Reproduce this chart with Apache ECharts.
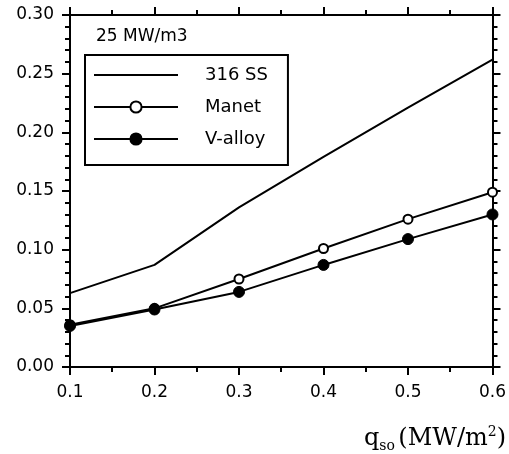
<!DOCTYPE html>
<html>
<head>
<meta charset="utf-8">
<script src="https://cdn.jsdelivr.net/npm/echarts@6/dist/echarts.min.js"></script>
<style>
  html, body { margin: 0; padding: 0; background: #fff; }
  #chart { width: 509px; height: 454px; }
</style>
</head>
<body>
<div id="chart"></div>
<script>
// Surface heat flux q_so (MW/m^2)
const heatFlux = [0.1, 0.2, 0.3, 0.4, 0.5, 0.6];
// Series values for each first-wall material at 25 MW/m3
const ss316 = [0.063, 0.087, 0.136, 0.179, 0.221, 0.262];
const manet = [0.036, 0.050, 0.075, 0.101, 0.126, 0.149];
const vAlloy = [0.035, 0.049, 0.064, 0.087, 0.109, 0.130];
const seriesNames = ['316 SS', 'Manet', 'V-alloy'];
const yTicks = [0, 0.05, 0.10, 0.15, 0.20, 0.25, 0.30];
const xTicks = [0.1, 0.2, 0.3, 0.4, 0.5, 0.6];

const pair = (xs, ys) => xs.map((x, i) => [x, ys[i]]);
const FONT = 'DejaVu Sans';
const CLEAR = 'rgba(0,0,0,0)';

const chart = echarts.init(document.getElementById('chart'), null, { renderer: 'canvas' });

const baseX = {
  type: 'value',
  min: xTicks[0],
  max: xTicks[xTicks.length - 1],
  interval: 0.1,
  axisLine: { show: true, onZero: false, lineStyle: { color: '#000', width: 2 } },
  axisTick: { show: true, length: 8, lineStyle: { color: '#000', width: 2 } },
  minorTick: { show: true, splitNumber: 2, length: 5, lineStyle: { color: '#000', width: 2 } },
  splitLine: { show: false }
};
const baseY = {
  type: 'value',
  min: yTicks[0],
  max: yTicks[yTicks.length - 1],
  interval: 0.05,
  axisLine: { show: true, onZero: false, lineStyle: { color: '#000', width: 2 } },
  axisTick: { show: true, length: 8, lineStyle: { color: '#000', width: 2 } },
  minorTick: { show: true, splitNumber: 5, length: 5, lineStyle: { color: '#000', width: 2 } },
  splitLine: { show: false }
};

chart.setOption({
  animation: false,
  backgroundColor: '#fff',
  grid: { left: 70, right: 16, top: 15, bottom: 87, containLabel: false },
  xAxis: [
    Object.assign({}, baseX, {
      position: 'bottom',
      axisLabel: {
        color: '#000', fontFamily: FONT, fontSize: 17, margin: 17,
        formatter: v => v.toFixed(1)
      }
    }),
    Object.assign({}, baseX, { position: 'top', axisLabel: { show: false } })
  ],
  yAxis: [
    Object.assign({}, baseY, {
      position: 'left',
      axisLabel: {
        color: '#000', fontFamily: FONT, fontSize: 17, margin: 16,
        formatter: v => v.toFixed(2)
      }
    }),
    Object.assign({}, baseY, { position: 'right', axisLabel: { show: false } })
  ],
  legend: {
    orient: 'vertical',
    left: 85,
    top: 55,
    data: [
      // plain line sample, no marker
      { name: seriesNames[0], itemStyle: { color: CLEAR, borderColor: CLEAR, borderWidth: 0 } },
      seriesNames[1],
      seriesNames[2]
    ],
    backgroundColor: '#fff',
    borderColor: '#000',
    borderWidth: 2,
    borderRadius: 0,
    padding: [11, 20, 17, 8],
    itemWidth: 84,
    itemHeight: 14,
    itemGap: 14,
    textStyle: { color: '#000', fontFamily: FONT, fontSize: 18, lineHeight: 18, padding: [0, 0, 0, 22] }
  },
  graphic: [
    {
      type: 'text',
      left: 96,
      top: 28,
      style: { text: '25 MW/m3', fill: '#000', font: '17px "DejaVu Sans"' }
    },
    {
      type: 'text',
      right: 3,
      top: 425,
      style: {
        text: '{q|q}{sub|so} {t|(MW/m}{sup|2}{t|)}',
        rich: {
          q: { fontFamily: 'DejaVu Serif', fontSize: 24, fill: '#000' },
          sub: { fontFamily: 'DejaVu Serif', fontSize: 14, fill: '#000', verticalAlign: 'bottom', padding: [14, 0, 0, 0] },
          t: { fontFamily: 'DejaVu Serif', fontSize: 24, fill: '#000' },
          sup: { fontFamily: 'DejaVu Serif', fontSize: 14, fill: '#000', verticalAlign: 'top', padding: [0, 0, 12, 0] }
        }
      }
    }
  ],
  series: [
    {
      name: seriesNames[0],
      type: 'line',
      data: pair(heatFlux, ss316),
      symbol: 'none',
      lineStyle: { color: '#000', width: 2 },
      itemStyle: { color: '#000' }
    },
    {
      name: seriesNames[1],
      type: 'line',
      data: pair(heatFlux, manet),
      symbol: 'circle',
      symbolSize: 9,
      lineStyle: { color: '#000', width: 2 },
      itemStyle: { color: '#fff', borderColor: '#000', borderWidth: 2 }
    },
    {
      name: seriesNames[2],
      type: 'line',
      data: pair(heatFlux, vAlloy),
      symbol: 'circle',
      symbolSize: 11,
      lineStyle: { color: '#000', width: 2 },
      itemStyle: { color: '#000', borderColor: '#000', borderWidth: 1 }
    }
  ]
});
</script>
</body>
</html>
